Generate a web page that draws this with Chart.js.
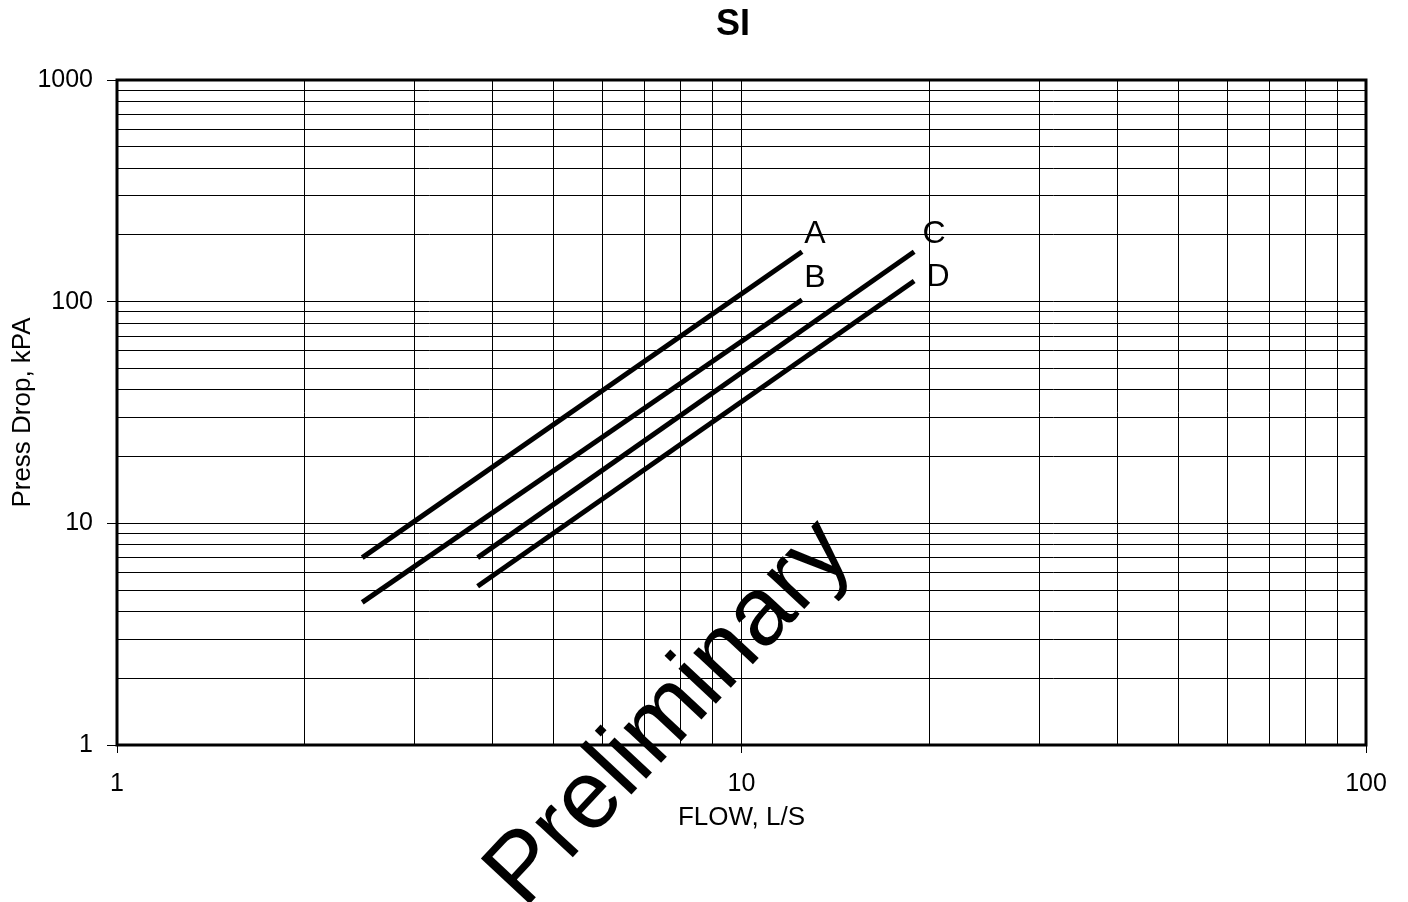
<!DOCTYPE html>
<html>
<head>
<meta charset="utf-8">
<script src="https://cdn.jsdelivr.net/npm/chart.js@4"></script>
<style>
  html, body { margin: 0; padding: 0; background: #fff; }
  #wrap { width: 1408px; height: 902px; }
</style>
</head>
<body>
<div id="wrap"><canvas id="c" width="1408" height="902"></canvas></div>
<script>
// data
const chartTitle = 'SI';
const seriesNames = ['A', 'B', 'C', 'D'];
const flowA = [2.47, 12.5];
const dropA = [7.0, 168];
const flowB = [2.47, 12.5];
const dropB = [4.4, 102];
const flowC = [3.78, 18.9];
const dropC = [7.0, 168];
const flowD = [3.78, 18.9];
const dropD = [5.2, 124];

const xTicks = [1, 2, 3, 4, 5, 6, 7, 8, 9, 10, 20, 30, 40, 50, 60, 70, 80, 90, 100];
const yTicks = [1, 2, 3, 4, 5, 6, 7, 8, 9, 10, 20, 30, 40, 50, 60, 70, 80, 90, 100,
                200, 300, 400, 500, 600, 700, 800, 900, 1000];
const xMajor = [1, 10, 100];
const yMajor = [1, 10, 100, 1000];

const FONT = "'Liberation Sans', Arial, sans-serif";
Chart.defaults.font.family = FONT;
Chart.defaults.color = '#000';

const pts = (xs, ys) => xs.map((x, i) => ({ x: x, y: ys[i] }));
const flows = [flowA, flowB, flowC, flowD];
const drops = [dropA, dropB, dropC, dropD];

// label offsets from the end of each line (px)
const labelOffset = [[13, -18], [13, -22], [20, -18], [24, -4]];

const datasets = seriesNames.map((n, i) => ({
  label: n,
  data: pts(flows[i], drops[i]),
  showLine: true,
  borderColor: '#000',
  borderWidth: 5,
  borderCapStyle: 'butt',
  pointRadius: 0
}));

// A/B/C/D labels at the line ends
const endLabels = {
  id: 'endLabels',
  afterDatasetsDraw(chart) {
    const ctx = chart.ctx;
    const xs = chart.scales.x, ys = chart.scales.y;
    ctx.save();
    ctx.font = '32px ' + FONT;
    ctx.fillStyle = '#000';
    ctx.textAlign = 'center';
    ctx.textBaseline = 'middle';
    seriesNames.forEach((n, i) => {
      const last = flows[i].length - 1;
      const px = xs.getPixelForValue(flows[i][last]) + labelOffset[i][0];
      const py = ys.getPixelForValue(drops[i][last]) + labelOffset[i][1];
      ctx.fillText(n, px, py);
    });
    ctx.restore();
  }
};

// frame round the plot area
const frame = {
  id: 'frame',
  beforeDatasetsDraw(chart) {
    const a = chart.chartArea, ctx = chart.ctx;
    ctx.save();
    ctx.strokeStyle = '#000';
    ctx.lineWidth = 3;
    ctx.strokeRect(a.left, a.top, a.right - a.left, a.bottom - a.top);
    ctx.restore();
  }
};

// title sits a bit right of centre in the original
const topTitle = {
  id: 'topTitle',
  afterDraw(chart) {
    const ctx = chart.ctx;
    ctx.save();
    ctx.font = 'bold 36px ' + FONT;
    ctx.fillStyle = '#000';
    ctx.textAlign = 'center';
    ctx.textBaseline = 'middle';
    ctx.fillText(chartTitle, 733, 25);
    ctx.restore();
  }
};

// the big "Preliminary" stamp
const stamp = {
  id: 'stamp',
  afterDraw(chart) {
    const ctx = chart.ctx;
    ctx.save();
    ctx.translate(670, 714);
    ctx.rotate(-47 * Math.PI / 180);
    ctx.font = '97px ' + FONT;
    ctx.fillStyle = '#000';
    ctx.textAlign = 'center';
    ctx.textBaseline = 'middle';
    ctx.fillText('Preliminary', 0, 0);
    ctx.restore();
  }
};

new Chart(document.getElementById('c'), {
  type: 'scatter',
  data: { datasets },
  options: {
    responsive: false,
    animation: false,
    layout: { padding: { left: 0, right: 42, top: 80, bottom: 0 } },
    plugins: {
      legend: { display: false },
      tooltip: { enabled: false },
      title: { display: false }
    },
    scales: {
      x: {
        type: 'logarithmic',
        min: 1, max: 100,
        afterBuildTicks: s => { s.ticks = xTicks.map(v => ({ value: v })); },
        afterFit: s => { s.height = 157; },
        border: { display: false },
        grid: {
          color: '#000',
          lineWidth: 1,
          tickLength: 8,
          tickColor: c => xMajor.includes(c.tick.value) ? '#000' : 'rgba(0,0,0,0)'
        },
        ticks: {
          autoSkip: false,
          maxRotation: 0,
          padding: 16,
          font: { size: 25 },
          callback: v => xMajor.includes(v) ? String(v) : ''
        },
        title: {
          display: true,
          text: 'FLOW, L/S',
          font: { size: 26 },
          padding: { top: 0, bottom: 69 }
        }
      },
      y: {
        type: 'logarithmic',
        min: 1, max: 1000,
        afterBuildTicks: s => { s.ticks = yTicks.map(v => ({ value: v })); },
        afterFit: s => { s.width = 117; },
        border: { display: false },
        grid: {
          color: '#000',
          lineWidth: 1,
          tickLength: 10,
          tickColor: c => yMajor.includes(c.tick.value) ? '#000' : 'rgba(0,0,0,0)'
        },
        ticks: {
          autoSkip: false,
          padding: 14,
          font: { size: 25 },
          callback: v => yMajor.includes(v) ? String(v) : ''
        },
        title: {
          display: true,
          text: 'Press Drop, kPA',
          font: { size: 26 },
          padding: { top: 7, bottom: 0 }
        }
      }
    }
  },
  plugins: [frame, endLabels, topTitle, stamp]
});
</script>
</body>
</html>
